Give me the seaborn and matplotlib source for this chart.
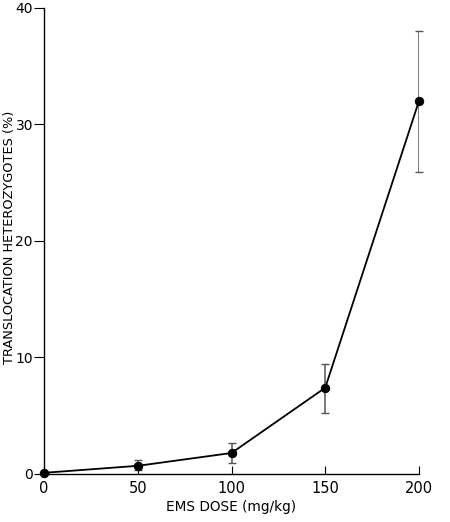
import numpy as np
import pandas as pd
import matplotlib
matplotlib.use("Agg")
import matplotlib.pyplot as plt
import seaborn as sb

# EMS dose vs translocation heterozygotes
dose = [0, 50, 100, 150, 200]
percent = [0.1, 0.7, 1.8, 7.4, 32.0]
err_low = [0.1, 0.3, 0.9, 5.2, 25.9]
err_high = [0.1, 1.2, 2.7, 9.4, 38.0]

df = pd.DataFrame({'dose': dose, 'percent': percent})

sb.set_style('ticks')
plt.rcParams['font.family'] = ['DejaVu Sans']
plt.rcParams['text.color'] = 'black'
plt.rcParams['axes.labelcolor'] = 'black'
plt.rcParams['xtick.color'] = 'black'
plt.rcParams['ytick.color'] = 'black'

fig = plt.figure(figsize=(4.5, 5.22), dpi=100)
ax = fig.add_axes([0.098, 0.092, 0.833, 0.893])

lower = np.array(percent) - np.array(err_low)
upper = np.array(err_high) - np.array(percent)
ax.errorbar(dose, percent, yerr=[lower, upper], fmt='none', ecolor='#555555',
            elinewidth=1.1, capsize=3, capthick=1.0, zorder=2)

sb.lineplot(data=df, x='dose', y='percent', ax=ax, color='black', lw=1.3,
            marker='o', markersize=6, markeredgecolor='black', zorder=3)

ax.set_xlim(0, 200)
ax.set_ylim(0, 40)
ax.set_xticks([0, 50, 100, 150, 200])
ax.set_yticks([0, 10, 20, 30, 40])
ax.tick_params(axis='x', direction='in', length=6, labelsize=10.5, pad=5)
ax.tick_params(axis='y', direction='out', length=7, labelsize=10, pad=1)
ax.set_xlabel('EMS DOSE (mg/kg)', fontsize=9.8)
ax.set_ylabel('TRANSLOCATION HETEROZYGOTES (%)', fontsize=9.3)
ax.yaxis.set_label_coords(-0.074, 0.508)
ax.xaxis.set_label_coords(0.5, -0.055)
for s in ['top', 'right']:
    ax.spines[s].set_visible(False)
for s in ['left', 'bottom']:
    ax.spines[s].set_linewidth(1.0)
    ax.spines[s].set_color('black')
for line in ax.lines:
    line.set_clip_on(False)

plt.savefig('out.png', dpi=100)
